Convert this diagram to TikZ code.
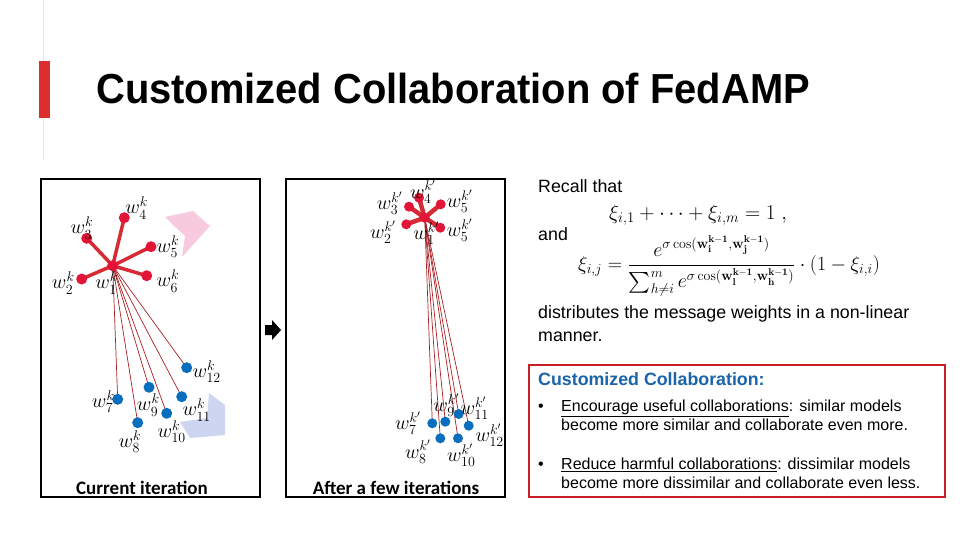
\RequirePackage{fix-cm}
\documentclass[tikz,border=0pt]{standalone}
\usepackage[no-math]{fontspec}
\setmainfont{Liberation Sans}
\newfontfamily\capfont{Carlito}
\usepackage{amsmath}
\usepackage{graphicx}
\usetikzlibrary{positioning}
\definecolor{barred}{RGB}{222,45,45}
\definecolor{dotred}{RGB}{226,20,55}
\definecolor{spokered}{RGB}{214,42,52}
\definecolor{linkred}{RGB}{170,30,35}
\definecolor{dotblue}{RGB}{10,110,190}
\definecolor{headblue}{RGB}{25,100,170}
\definecolor{boxred}{RGB}{200,30,40}
\definecolor{pinkfill}{RGB}{247,202,222}
\definecolor{bluefill}{RGB}{206,213,240}
\tikzset{
  rdot/.style    = {circle, fill=dotred, inner sep=0pt, minimum size=11pt},
  bdot/.style    = {circle, fill=dotblue, inner sep=0pt, minimum size=11pt},
  wlab/.style    = {inner sep=0pt, font=\fontsize{20}{20}\selectfont},
  spoke/.style   = {draw=spokered, line width=3.5pt},
  link/.style    = {draw=linkred, line width=0.7pt},
  panel/.style   = {draw=black, line width=1.6pt},
  caption/.style = {anchor=base, inner sep=0pt,
                    font=\capfont\bfseries\fontsize{19}{19}\selectfont},
  txt/.style     = {anchor=base west, inner sep=0pt,
                    font=\fontsize{17.8}{23}\selectfont},
  bul/.style     = {anchor=base west, inner sep=0pt,
                    font=\fontsize{16}{19}\selectfont},
}

\begin{document}
\begin{tikzpicture}[x=1pt,y=-1pt]
  \useasboundingbox (0,0) rectangle (960,540);

  % title bar
  \draw[black!10, line width=0.6pt] (43,0) -- (43,160);
  \fill[barred] (39,61) rectangle (50,118);
  \node[anchor=base west, inner sep=0pt] (title) at (96,104)
       {\fontsize{42}{42}\selectfont\bfseries\scalebox{0.95}[1]{Customized Collaboration of FedAMP}};

  % left panel: current iteration
  \draw[panel] (41,179) rectangle (260,497);
  \fill[pinkfill] (165,217) -- (193,211) -- (210,226) -- (182,257) -- (185,236) -- (172,224) -- cycle;
  \fill[bluefill] (209,393) -- (225,405) -- (225,435) -- (190,438) -- (180,422) -- (207,418) -- cycle;

  \coordinate (a1) at (112.7,265.7);
  \foreach \n/\x/\y in {7/117.7/399.3, 8/137.7/422.7, 9/149/387.3,
                        10/166.7/413.3, 11/181.7/396.7, 12/186.7/367.7}
    \coordinate (a\n) at (\x,\y);
  \foreach \n/\x/\y in {2/81.7/279, 3/86.7/238.3, 4/124.3/217.7,
                        5/151/246.7, 6/146.7/275.7}
    \coordinate (a\n) at (\x,\y);

  \foreach \n in {7,...,12} \draw[link] (a1) -- (a\n);
  \foreach \n in {2,...,6} \draw[spoke] (a1) -- (a\n);
  \foreach \n in {1,...,6} \node[rdot] (ad\n) at (a\n) {};
  \foreach \n in {7,...,12} \node[bdot] (ad\n) at (a\n) {};

  \node[wlab] (al1) at (106.7,283) {$w_1^k$};
  \node[wlab] (al2) at (63.3,283) {$w_2^k$};
  \node[wlab] (al3) at (82,228) {$w_3^k$};
  \node[wlab] (al4) at (136.7,208) {$w_4^k$};
  \node[wlab] (al5) at (168,246.7) {$w_5^k$};
  \node[wlab] (al6) at (168,281) {$w_6^k$};
  \node[wlab] (al7) at (103.3,401.7) {$w_7^k$};
  \node[wlab] (al8) at (130,441.7) {$w_8^k$};
  \node[wlab] (al9) at (148.3,405) {$w_9^k$};
  \node[wlab] (al10) at (171.7,431.7) {$w_{10}^k$};
  \node[wlab] (al11) at (196.7,410) {$w_{11}^k$};
  \node[wlab] (al12) at (206.7,371.7) {$w_{12}^k$};

  \node[caption] (capl) at (142,494) {Current iteration};

  % arrow between the panels
  \fill (265,325) -- (272,325) -- (272,320) -- (281,330) -- (272,340) -- (272,335) -- (265,335) -- cycle;

  % middle panel: after a few iterations
  \draw[panel] (286,179) rectangle (505,497);

  \coordinate (b1) at (424.7,217.7);
  \foreach \n/\x/\y in {7/432.3/423.3, 8/440.3/438.3, 9/445.3/421.7,
                        10/458/438.3, 11/458.7/414, 12/468.7/425.7}
    \coordinate (b\n) at (\x,\y);
  \foreach \n/\x/\y in {2/406.3/224.3, 3/409/206.7, 4/419/197.7,
                        5/440.7/204.3, 6/440.3/227.7}
    \coordinate (b\n) at (\x,\y);

  \foreach \n in {7,...,12} \draw[link] (b1) -- (b\n);
  \foreach \n in {2,...,6} \draw[spoke, line width=4.5pt] (b1) -- (b\n);
  \foreach \n in {1,...,6} \node[rdot, minimum size=10pt] (bd\n) at (b\n) {};
  \foreach \n in {7,...,12} \node[bdot, minimum size=10pt] (bd\n) at (b\n) {};

  \node[wlab] (bl1) at (426.3,233.3) {$w_1^{k'}$};
  \node[wlab] (bl2) at (383,232.3) {$w_2^{k'}$};
  \node[wlab] (bl3) at (389.7,203.3) {$w_3^{k'}$};
  \node[wlab] (bl4) at (423,191.7) {$w_4^{k'}$};
  \node[wlab] (bl5) at (459.7,201) {$w_5^{k'}$};
  \node[wlab] (bl6) at (459.7,230) {$w_5^{k'}$};
  \node[wlab] (bl7) at (408,423.3) {$w_7^{k'}$};
  \node[wlab] (bl8) at (418,451.7) {$w_8^{k'}$};
  \node[wlab] (bl9) at (446.3,405) {$w_9^{k'}$};
  \node[wlab] (bl10) at (461.3,455) {$w_{10}^{k'}$};
  \node[wlab] (bl11) at (474.7,408.3) {$w_{11}^{k'}$};
  \node[wlab] (bl12) at (489.7,435) {$w_{12}^{k'}$};

  \node[caption] (capr) at (396,494) {After a few iterations};

  % right column
  \node[txt] (recall) at (538,192) {Recall that};
  \node[anchor=base west, inner sep=0pt, font=\fontsize{21}{21}\selectfont] (sumone)
       at (609,219) {$\xi_{i,1}+\cdots+\xi_{i,m}=1\ ,$};
  \node[txt] (andw) at (538,240) {and};
  \node[anchor=west, inner sep=0pt, font=\fontsize{20}{20}\selectfont] (xiform) at (578,266)
       {$\xi_{i,j}=\dfrac{e^{\sigma\cos(\mathbf{w}_{\mathbf{i}}^{\mathbf{k-1}},\mathbf{w}_{\mathbf{j}}^{\mathbf{k-1}})}}
        {\sum_{h\neq i}^{m}e^{\sigma\cos(\mathbf{w}_{\mathbf{l}}^{\mathbf{k-1}},\mathbf{w}_{\mathbf{h}}^{\mathbf{k-1}})}}
        \cdot(1-\xi_{i,i})$};
  \node[txt] (distr) at (538,318) {distributes the message weights in a non-linear};
  \node[txt] (distr2) at (538,341) {manner.};

  \draw[draw=boxred, line width=1.6pt] (529,365) rectangle (945,497);
  \node[anchor=base west, inner sep=0pt, text=headblue,
        font=\bfseries\fontsize{17.8}{17.8}\selectfont] (custom) at (538,385) {Customized Collaboration:};
  \node[bul] (dot1) at (538,411) {•};
  \node[bul] (good) at (561,411) {\underline{Encourage useful collaborations}: similar models};
  \node[bul] (good2) at (561,430) {become more similar and collaborate even more.};
  \node[bul] (dot2) at (538,469) {•};
  \node[bul] (bad) at (561,469) {\underline{Reduce harmful collaborations}: dissimilar models};
  \node[bul] (bad2) at (561,488) {become more dissimilar and collaborate even less.};
\end{tikzpicture}
\end{document}
